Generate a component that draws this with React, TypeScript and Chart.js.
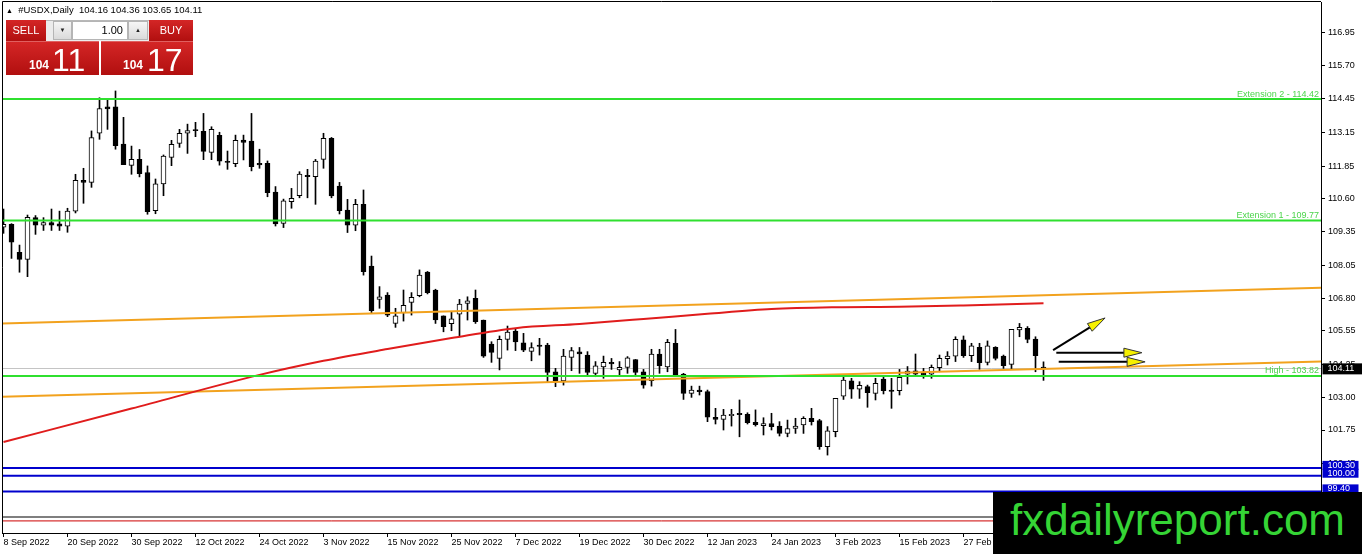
import React, { useEffect, useRef } from "react";
import { Chart, registerables } from "chart.js";

Chart.register(...registerables);

// ---------- data ----------
const dateLabels = [
  "8 Sep 2022", "20 Sep 2022", "30 Sep 2022", "12 Oct 2022", "24 Oct 2022",
  "3 Nov 2022", "15 Nov 2022", "25 Nov 2022", "7 Dec 2022", "19 Dec 2022",
  "30 Dec 2022", "12 Jan 2023", "24 Jan 2023", "3 Feb 2023", "15 Feb 2023", "27 Feb 2023",
];
const dateTickBars = [0, 8, 16, 24, 32, 40, 48, 56, 64, 72, 80, 88, 96, 104, 112, 120];

const opens = [
  109.52, 109.62, 108.55, 108.28, 109.88, 109.59, 109.69, 109.64, 109.55, 110.13,
  111.31, 111.23, 113.11, 114.12, 114.12, 112.70, 111.88, 112.11, 111.61, 110.15,
  111.17, 112.19, 112.72, 113.11, 113.22, 113.18, 112.38, 113.03, 112.04, 111.95,
  112.85, 112.81, 111.96, 111.96, 110.86, 109.66, 110.49, 110.72, 111.50, 111.45,
  112.11, 112.92, 111.09, 110.17, 109.59, 110.39, 108.03, 106.75, 106.92, 105.83,
  106.24, 106.63, 106.89, 107.80, 107.11, 106.12, 105.82, 106.18, 106.60, 106.79,
  105.96, 105.04, 104.49, 105.22, 105.54, 105.09, 104.76, 105.00, 105.00, 103.98,
  103.63, 104.53, 104.74, 104.62, 103.92, 104.17, 104.34, 104.05, 104.15, 104.45,
  103.98, 103.64, 104.66, 104.17, 105.07, 103.89, 103.15, 103.28, 103.22, 102.24,
  102.16, 102.30, 102.39, 102.35, 102.04, 101.92, 102.00, 101.90, 101.62, 101.81,
  101.94, 102.20, 102.11, 101.11, 101.69, 103.05, 103.63, 103.31, 103.41, 103.15,
  103.70, 103.28, 103.26, 103.89, 104.02, 103.92, 103.89, 104.14, 104.48, 104.58,
  105.20, 104.60, 104.92, 104.34, 104.92, 104.58, 104.26, 105.58, 105.64, 105.23,
  104.16,
];
const highs = [
  110.21, 109.65, 108.83, 109.98, 109.96, 109.88, 110.21, 110.13, 110.24, 111.54,
  111.77, 113.20, 114.47, 114.42, 114.73, 113.72, 112.62, 112.49, 111.86, 111.36,
  112.28, 112.84, 113.26, 113.46, 113.53, 113.87, 113.36, 113.15, 112.43, 113.04,
  113.04, 113.87, 112.50, 112.05, 111.07, 110.59, 111.00, 111.64, 111.73, 112.11,
  113.11, 112.95, 111.23, 110.58, 110.58, 110.94, 108.41, 107.24, 107.01, 106.41,
  107.11, 107.01, 107.88, 107.82, 107.14, 106.12, 106.28, 106.75, 106.85, 107.11,
  105.96, 105.13, 105.35, 105.73, 105.64, 105.45, 105.09, 105.26, 105.07, 104.11,
  104.84, 104.91, 104.91, 104.75, 104.37, 104.58, 104.49, 104.37, 104.56, 104.45,
  104.07, 104.84, 104.84, 105.22, 105.60, 103.92, 103.43, 103.43, 103.28, 102.58,
  102.54, 102.54, 102.90, 102.41, 102.52, 102.22, 102.39, 102.07, 102.13, 102.20,
  102.26, 102.58, 102.16, 101.88, 102.96, 103.77, 103.73, 103.60, 103.47, 103.73,
  103.77, 103.73, 104.07, 104.18, 104.66, 104.11, 104.24, 104.62, 104.75, 105.32,
  105.35, 105.07, 105.07, 105.16, 104.94, 104.62, 105.60, 105.83, 105.71, 105.32,
  104.36,
];
const lows = [
  109.28, 108.32, 107.79, 107.62, 109.24, 109.39, 109.39, 109.39, 109.32, 110.06,
  110.43, 111.04, 112.88, 113.26, 112.50, 111.91, 111.54, 111.44, 110.01, 110.03,
  110.72, 111.87, 112.57, 112.34, 112.98, 112.10, 112.10, 111.89, 111.73, 111.83,
  112.09, 111.67, 111.77, 110.68, 109.56, 109.50, 110.24, 110.64, 110.64, 110.39,
  111.77, 110.64, 110.02, 109.31, 109.38, 107.68, 106.22, 106.41, 106.09, 105.68,
  105.92, 106.15, 106.85, 106.96, 105.83, 105.51, 105.55, 105.35, 105.96, 105.83,
  104.53, 104.34, 104.05, 104.81, 104.79, 104.75, 104.40, 104.62, 103.60, 103.41,
  103.47, 104.02, 103.92, 103.85, 103.79, 103.73, 104.07, 103.85, 103.92, 103.79,
  103.35, 103.43, 103.92, 103.98, 103.85, 102.92, 103.00, 103.09, 102.07, 101.98,
  101.75, 101.90, 101.49, 101.98, 101.90, 101.56, 101.75, 101.52, 101.49, 101.62,
  101.62, 101.94, 101.01, 100.79, 101.49, 102.92, 102.96, 102.96, 102.62, 102.90,
  103.13, 102.58, 103.09, 103.51, 103.86, 103.73, 103.73, 103.98, 104.24, 104.37,
  104.53, 104.37, 104.07, 104.24, 104.43, 104.11, 104.07, 105.32, 105.09, 103.98,
  103.65,
];
const closes = [
  109.62, 108.94, 108.28, 109.89, 109.59, 109.69, 109.59, 109.55, 110.13, 111.31,
  111.23, 112.95, 114.06, 114.04, 112.64, 111.91, 112.11, 111.56, 110.11, 111.17,
  112.24, 112.69, 113.11, 113.21, 113.21, 112.42, 113.26, 112.04, 111.99, 112.84,
  112.76, 111.83, 111.90, 110.84, 109.64, 110.52, 110.62, 111.55, 111.45, 112.05,
  112.92, 110.71, 110.15, 109.59, 110.39, 107.81, 106.32, 106.85, 106.15, 106.12,
  106.52, 106.83, 107.68, 107.01, 105.96, 105.71, 106.01, 106.57, 106.70, 105.90,
  104.58, 104.72, 105.22, 105.50, 105.12, 104.81, 104.91, 104.95, 103.95, 103.63,
  104.58, 104.79, 104.66, 103.95, 104.21, 104.34, 104.28, 104.15, 104.51, 103.95,
  103.47, 104.66, 104.21, 105.11, 103.85, 103.15, 103.28, 103.22, 102.24, 102.16,
  102.32, 102.35, 102.34, 102.03, 101.95, 102.00, 101.88, 101.62, 101.80, 101.90,
  102.20, 102.07, 101.11, 101.72, 102.96, 103.66, 103.31, 103.46, 103.18, 103.54,
  103.26, 103.23, 103.77, 104.01, 103.89, 103.87, 104.15, 104.49, 104.58, 105.22,
  104.60, 104.97, 104.33, 104.97, 104.49, 104.21, 105.60, 105.68, 105.22, 104.60,
  104.11,
];

const yTickValues = [116.95, 115.7, 114.45, 113.15, 111.85, 110.6, 109.35, 108.05, 106.8, 105.55, 104.25, 103.0, 101.75, 100.45];

// red moving average (bar index, value)
const maBars = [0, 16, 32, 40, 48, 56, 64, 72, 80, 88, 96, 104, 112, 120, 130];
const maValues = [101.29, 102.57, 103.86, 104.4, 104.85, 105.27, 105.65, 105.81, 106.0, 106.2, 106.38, 106.45, 106.47, 106.52, 106.6];

// orange channel lines (value at left edge, value at right edge)
const orangeUpper = [105.83, 107.2];
const orangeLower = [103.02, 104.37];

const greenLevels = [114.42, 109.77, 103.82];
const greenLabels = ["Extension 2 - 114.42", "Extension 1 - 109.77", "High - 103.82"];
const blueLevels = [100.3, 100.0, 99.4];
const blackLevel = 98.42;
const redLevel = 98.27;
const bidPrice = 104.11;

// arrows (bar index / price)
const arrowStartX = [131.2, 131.6, 131.9];
const arrowStartY = [104.81, 104.71, 104.36];
const arrowEndX = [137.7, 142.3, 142.7];
const arrowEndY = [106.04, 104.71, 104.36];

// ---------- view ----------
const X_MIN = -0.1875;
const X_MAX = X_MIN + 1319 / 8;
const Y_MIN = 97.807;
const Y_MAX = 118.136;

const FONT = '"Liberation Sans", Arial, sans-serif';

function drawArrow(ctx: CanvasRenderingContext2D, x0: number, y0: number, x1: number, y1: number) {
  const ang = Math.atan2(y1 - y0, x1 - x0);
  const c = Math.cos(ang), s = Math.sin(ang);
  const headLen = 18, headW = 4.5;
  const bx = x1 - headLen * c, by = y1 - headLen * s;
  ctx.save();
  ctx.strokeStyle = "#000";
  ctx.lineWidth = 2;
  ctx.beginPath();
  ctx.moveTo(x0, y0);
  ctx.lineTo(bx + 2 * c, by + 2 * s);
  ctx.stroke();
  ctx.beginPath();
  ctx.moveTo(x1, y1);
  ctx.lineTo(bx - headW * s, by + headW * c);
  ctx.lineTo(bx + headW * s, by - headW * c);
  ctx.closePath();
  ctx.fillStyle = "#f6f000";
  ctx.fill();
  ctx.lineWidth = 1;
  ctx.strokeStyle = "#333";
  ctx.stroke();
  ctx.restore();
}

const mt4Plugin = {
  id: "mt4",
  beforeDatasetsDraw(chart: any) {
    const { ctx, chartArea } = chart;
    const y = chart.scales.y.getPixelForValue(bidPrice);
    ctx.save();
    ctx.strokeStyle = "#c4c4c4";
    ctx.lineWidth = 1;
    ctx.beginPath();
    ctx.moveTo(chartArea.left, Math.round(y) + 0.5);
    ctx.lineTo(chartArea.right, Math.round(y) + 0.5);
    ctx.stroke();
    ctx.restore();
  },
  afterDatasetsDraw(chart: any) {
    const { ctx, chartArea } = chart;
    const ys = chart.scales.y;
    const xs = chart.scales.x;
    ctx.save();
    ctx.beginPath();
    ctx.rect(chartArea.left, chartArea.top, chartArea.right - chartArea.left, chartArea.bottom - chartArea.top);
    ctx.clip();
    const hline = (v: number, color: string, w: number) => {
      const y = ys.getPixelForValue(v);
      ctx.strokeStyle = color;
      ctx.lineWidth = w;
      ctx.beginPath();
      ctx.moveTo(chartArea.left, y);
      ctx.lineTo(chartArea.right, y);
      ctx.stroke();
    };
    greenLevels.forEach((v) => hline(v, "#2fe02f", 2));
    blueLevels.forEach((v) => hline(v, "#0000cd", 2));
    hline(blackLevel, "#000", 1.2);
    hline(redLevel, "#cc0000", 1);

    ctx.font = `9px ${FONT}`;
    ctx.fillStyle = "#4bd44b";
    ctx.textAlign = "right";
    ctx.textBaseline = "bottom";
    greenLevels.forEach((v, k) => {
      const y = ys.getPixelForValue(v);
      ctx.fillText(greenLabels[k], chartArea.right - 2, y - 0.5);
    });

    arrowStartX.forEach((_, k) => {
      drawArrow(
        ctx,
        xs.getPixelForValue(arrowStartX[k]),
        ys.getPixelForValue(arrowStartY[k]),
        xs.getPixelForValue(arrowEndX[k]),
        ys.getPixelForValue(arrowEndY[k])
      );
    });
    ctx.restore();
  },
  afterDraw(chart: any) {
    const { ctx, chartArea } = chart;
    const ys = chart.scales.y;
    ctx.save();
    ctx.strokeStyle = "#000";
    ctx.lineWidth = 1;
    ctx.beginPath();
    ctx.moveTo(chartArea.left + 0.5, chartArea.bottom);
    ctx.lineTo(chartArea.left + 0.5, chartArea.top - 0.5);
    ctx.lineTo(chartArea.right, chartArea.top - 0.5);
    ctx.stroke();

    ctx.font = `9px ${FONT}`;
    ctx.textAlign = "left";
    ctx.textBaseline = "middle";
    // blue level labels
    blueLevels.forEach((v) => {
      const y = ys.getPixelForValue(v);
      ctx.fillStyle = "#0000cd";
      ctx.fillRect(chartArea.right + 1.5, y - 7, 36, 9);
      ctx.fillStyle = "#fff";
      ctx.fillText(v.toFixed(2), chartArea.right + 6.5, y - 2.5);
    });
    // bid price label
    const yb = ys.getPixelForValue(bidPrice);
    ctx.fillStyle = "#000";
    ctx.fillRect(chartArea.right + 1.5, yb - 5, 40, 11);
    ctx.fillStyle = "#fff";
    ctx.fillText(bidPrice.toFixed(2), chartArea.right + 6.5, yb + 0.5);
    ctx.restore();
  },
};

export default function App() {
  const ref = useRef<HTMLCanvasElement>(null);

  useEffect(() => {
    const idx = opens.map((_, i) => i);
    const up = idx.map((i) => closes[i] > opens[i] + 0.02);
    const chart = new Chart(ref.current as HTMLCanvasElement, {
      type: "bar",
      data: {
        datasets: [
          {
            type: "line",
            data: maBars.map((b, k) => ({ x: b, y: maValues[k] })),
            borderColor: "#e01c1c",
            borderWidth: 2,
            pointRadius: 0,
            cubicInterpolationMode: "monotone",
            order: 0,
          } as any,
          {
            type: "line",
            data: [{ x: X_MIN, y: orangeUpper[0] }, { x: X_MAX, y: orangeUpper[1] }],
            borderColor: "#f2a21e",
            borderWidth: 2,
            pointRadius: 0,
            order: 0,
          } as any,
          {
            type: "line",
            data: [{ x: X_MIN, y: orangeLower[0] }, { x: X_MAX, y: orangeLower[1] }],
            borderColor: "#f2a21e",
            borderWidth: 2,
            pointRadius: 0,
            order: 0,
          } as any,
          {
            type: "bar",
            data: idx.map((i) => ({ x: i, y: [opens[i], closes[i]] })),
            backgroundColor: idx.map((i) => (up[i] ? "#ffffff" : "#000000")),
            borderColor: "#000",
            borderWidth: 1,
            borderSkipped: false,
            barThickness: 5,
            minBarLength: 1,
            grouped: false,
            order: 1,
          } as any,
          {
            type: "bar",
            data: idx.map((i) => ({ x: i, y: [lows[i], highs[i]] })),
            backgroundColor: "#000",
            borderWidth: 0,
            barThickness: 1,
            grouped: false,
            order: 2,
          } as any,
        ],
      },
      options: {
        animation: false,
        responsive: false,
        devicePixelRatio: 1,
        layout: { padding: { left: 2, top: 2, right: 0, bottom: 0 } },
        plugins: { legend: { display: false }, tooltip: { enabled: false } },
        events: [],
        scales: {
          x: {
            type: "linear",
            position: "bottom",
            min: X_MIN,
            max: X_MAX,
            offset: false,
            afterBuildTicks: (scale: any) => {
              scale.ticks = dateTickBars.map((b) => ({ value: b }));
            },
            afterFit: (scale: any) => {
              scale.height = 21;
              scale.paddingLeft = 0;
              scale.paddingRight = 0;
            },
            ticks: {
              autoSkip: false,
              maxRotation: 0,
              minRotation: 0,
              align: "start",
              padding: 0,
              color: "#000",
              font: { family: FONT, size: 9 },
              callback: (_v: any, i: number) => dateLabels[i],
            },
            grid: { drawOnChartArea: false, drawTicks: true, tickLength: 4, color: "#000", offset: false },
            border: { display: true, color: "#000", width: 1 },
          },
          y: {
            type: "linear",
            position: "right",
            min: Y_MIN,
            max: Y_MAX,
            afterBuildTicks: (scale: any) => {
              scale.ticks = yTickValues.map((v) => ({ value: v }));
            },
            afterFit: (scale: any) => {
              scale.width = 41;
              scale.paddingTop = 0;
              scale.paddingBottom = 0;
            },
            ticks: {
              padding: 3,
              color: "#000",
              font: { family: FONT, size: 9 },
              callback: (v: any) => Number(v).toFixed(2),
            },
            grid: { drawOnChartArea: false, drawTicks: true, tickLength: 4, color: "#000" },
            border: { display: true, color: "#000", width: 1 },
          },
        },
      } as any,
      plugins: [mt4Plugin],
    });
    return () => chart.destroy();
  }, []);

  const red = "linear-gradient(#d42626, #b10f0f)";
  const btnGrey = "linear-gradient(#f6f6f6, #dadada)";

  return (
    <div
      style={{
        position: "absolute",
        left: 0,
        top: 0,
        width: 1362,
        height: 554,
        background: "#fff",
        overflow: "hidden",
        fontFamily: FONT,
      }}
    >
      <canvas ref={ref} width={1362} height={554} style={{ position: "absolute", left: 0, top: 0 }} />

      {/* header */}
      <div style={{ position: "absolute", left: 6, top: 4, fontSize: 9.5, lineHeight: "12px", whiteSpace: "pre", color: "#000" }}>
        <span style={{ fontSize: 7 }}>▲</span>  #USDX,Daily  104.16 104.36 103.65 104.11
      </div>

      {/* one-click trading panel */}
      <div style={{ position: "absolute", left: 46, top: 20, width: 103, height: 21, background: "#ececec", borderTop: "1px solid #b8b8b8", boxSizing: "border-box" }} />
      <div style={{ position: "absolute", left: 6, top: 20, width: 40, height: 21, background: red, color: "#fff", fontSize: 11, lineHeight: "21px", textAlign: "center" }}>SELL</div>
      <div style={{ position: "absolute", left: 53, top: 21, width: 19, height: 19, background: btnGrey, border: "1px solid #b5b5b5", boxSizing: "border-box", fontSize: 6, lineHeight: "17px", textAlign: "center", color: "#222" }}>▼</div>
      <div style={{ position: "absolute", left: 72, top: 21, width: 56, height: 19, background: "#fff", border: "1px solid #b5b5b5", boxSizing: "border-box", fontSize: 11, lineHeight: "17px", textAlign: "right", paddingRight: 4, color: "#000" }}>1.00</div>
      <div style={{ position: "absolute", left: 128, top: 21, width: 20, height: 19, background: btnGrey, border: "1px solid #b5b5b5", boxSizing: "border-box", fontSize: 6, lineHeight: "17px", textAlign: "center", color: "#222" }}>▲</div>
      <div style={{ position: "absolute", left: 149, top: 20, width: 44, height: 21, background: red, color: "#fff", fontSize: 11, lineHeight: "21px", textAlign: "center" }}>BUY</div>

      <div style={{ position: "absolute", left: 6, top: 41, width: 93, height: 34, background: red, borderTop: "1px solid #e06060", boxSizing: "border-box" }} />
      <div style={{ position: "absolute", left: 101, top: 41, width: 92, height: 34, background: red, borderTop: "1px solid #e06060", boxSizing: "border-box" }} />
      <span style={{ position: "absolute", left: 29, top: 59, fontSize: 12, lineHeight: "12px", fontWeight: "bold", color: "#fff" }}>104</span>
      <span style={{ position: "absolute", left: 52, top: 44, fontSize: 32, lineHeight: "32px", color: "#fff" }}>11</span>
      <span style={{ position: "absolute", left: 123, top: 59, fontSize: 12, lineHeight: "12px", fontWeight: "bold", color: "#fff" }}>104</span>
      <span style={{ position: "absolute", left: 147, top: 44, fontSize: 32, lineHeight: "32px", color: "#fff" }}>17</span>

      {/* watermark */}
      <div style={{ position: "absolute", left: 993, top: 492, width: 369, height: 62, background: "#000" }}>
        <span style={{ position: "absolute", left: 17, top: 6, fontSize: 44, lineHeight: "44px", color: "#35d435", whiteSpace: "pre" }}>fxdailyreport.com</span>
      </div>
    </div>
  );
}
